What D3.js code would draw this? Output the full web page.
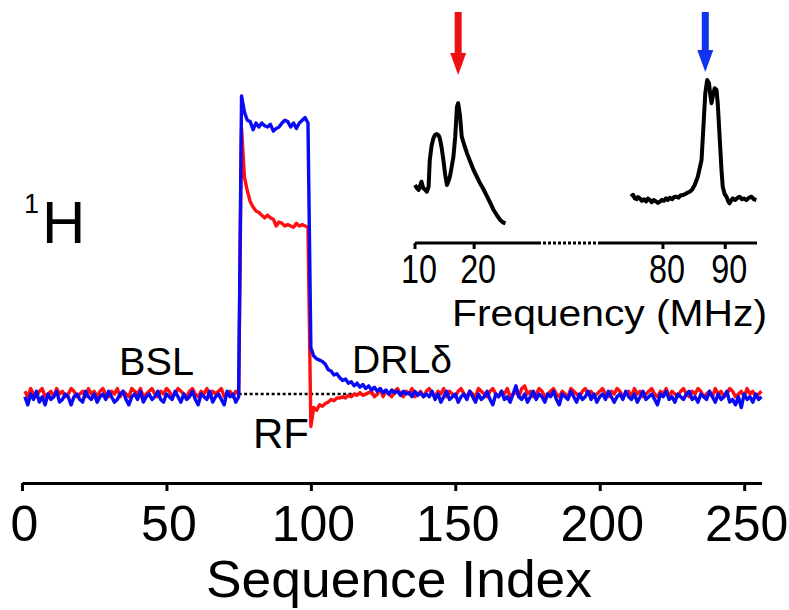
<!DOCTYPE html>
<html>
<head>
<meta charset="utf-8">
<script src="https://cdn.jsdelivr.net/npm/d3@7"></script>
<style>
  body { margin: 0; background: #fff; }
  svg { display: block; font-family: Arial, "Liberation Sans", sans-serif; }
</style>
</head>
<body>
<svg id="chart" width="789" height="610"></svg>
<script>
// ---- main trace data (signal in % of blue plateau), sequence index 1..256 ----
const redBSL = [
  1, -1, 2, 0, -1, 1, 2, -1, 0, 1,
  -1, 2, 0, 1, -1, 0, 2, 1, -1, 0,
  1, -1, 2, 0, 1, -1, 1, 2, 0, -1,
  1, 0, 2, -1, 1, 0, -1, 2, 1, 0,
  2, -1, 0, 1, 2, 0, -1, 1, 0, 2,
  1, -1, 0, 2, 1, 0, -1, 1, 2, 0,
  -1, 1, 0, 2, -1, 1, 0, 1, 2, -1,
  0, 1, -1, 1, 0
];
const redRF = [98, 80, 75, 71, 69, 67.5, 67, 66, 65, 66, 65, 64.5, 62, 63.5, 63, 62, 62.5, 62, 61.5, 63, 62, 62.5, 62, 61.5];
const redDRL = [-12, -5, -6, -4, -4.5, -3.5, -3, -2, -2.5, -1.5, -1.5, -1, -1.5, -0.5, -1, 0, -0.5, 0.5, -0.5, 0, 0.5];
const redTail = [
  1, -1, 0, 2, -1, 1, 0, -1, 1, 2,
  0, -1, 1, 0, 2, -1, 0, 1, -1, 1,
  2, 0, -1, 1, 0, 2, -1, 1, 0, -1,
  1, 2, 0, -1, 1, 0, -1, 2, 1, 0,
  -1, 1, 2, 0, -1, 1, 0, 2, -1, 0,
  1, -1, 2, 3, 0, 1, -1, 0, 2, 1,
  -1, 0, 1, 2, 0, -1, 1, 0, -1, 2,
  1, 0, -1, 1, 2, 0, 1, -1, 0, 1,
  2, 0, -1, 1, 0, 2, 1, -1, 0, 1,
  -1, 2, 0, 1, -1, 0, 1, 2, 0, -1,
  1, 0, 2, -1, 1, 0, -1, 1, 2, 0,
  -1, 1, 0, 2, 1, -1, 0, 1, -1, 2,
  0, 1, -1, 0, 2, 1, -1, 0, 1, -1,
  2, 0, 1, -1, 0, 1
];

const blueBSL = [
  -1, -4, 0, -2, 1, -3, -1, -4, 0, -2,
  -1, 1, -3, -2, 0, -1, -4, -1, 0, -2,
  -3, 1, -1, -2, 0, -3, -1, 0, -2, 1,
  -1, -3, -2, 0, 1, -2, -4, -1, 0, -2,
  1, -3, -1, 0, -2, -1, 1, -2, -3, 0,
  -1, -2, 1, -1, -3, 0, -2, -1, 1, -2,
  -4, 0, -1, -2, 1, -3, -1, 0, -2, -4,
  1, -1, 0, -3, -1
];
const blueRF = [110, 104, 101, 100.5, 97.5, 100, 98.5, 100, 99, 98.5, 99.5, 97, 98, 98.5, 100, 101, 100.5, 98.5, 100, 98, 100, 101, 102, 100];
const blueDRL = [
  17, 14, 13, 12.5, 12, 11, 9, 8.5, 7, 7.5,
  6, 5, 5.5, 4, 4.5, 3, 4, 2.5, 3.5, 2,
  3, 1.5, 2.5, 1, 2, 0.5, 1.5, 0, 1.5, 0.5,
  1, -0.5, 1, 0, 0.5, -1, 1, -0.5, 0.5, -1, 0
];
const blueTail = [
  -1, 1, -2, 0, -3, -1, 1, -2, -1, 0,
  -3, -1, 0, -2, 1, -1, -3, 0, -2, -1,
  1, -2, -4, 0, -1, 1, -2, -1, -3, 0,
  3, -1, -2, 0, -3, -1, 1, -2, 0, -1,
  -3, 0, -1, 1, -2, -4, 0, -1, -2, 1,
  -1, -3, 0, -2, -1, 1, -2, 0, -3, -1,
  0, -2, 1, -1, -3, -1, 0, -2, 1, -1,
  -2, 0, -3, -1, 1, -2, -1, 0, -2, -4,
  0, -1, 1, -2, -1, -3, 0, -1, -2, 0,
  1, -2, -1, -3, 0, -1, -2, 1, -1, -3,
  0, -2, -1, 1, -3, -2, -4, -1, -5, 0,
  -2, -1, -3, 0, -2, -1
];

const redSignal = [...redBSL, ...redRF, ...redDRL, ...redTail];
const blueSignal = [...blueBSL, ...blueRF, ...blueDRL, ...blueTail];
const refLine = [75, 130]; // dotted zero reference (sequence index span)
const xTicks = [0, 50, 100, 150, 200, 250];

// ---- inset spectra: frequency (MHz), intensity ----
const lowFreq = [10.0, 10.3, 10.6, 10.9, 11.1, 11.4, 11.7, 12.0, 12.3, 12.5, 12.8, 13.1, 13.4, 13.7, 14.0, 14.2, 14.5, 14.8, 15.1, 15.4, 15.7, 15.9, 16.2, 16.5, 16.8, 17.1, 17.3, 17.6, 17.9, 18.3, 18.8, 19.3, 19.9, 20.4, 21.0, 21.6, 22.2, 22.8, 23.3, 23.9, 24.4, 24.9, 25.3];
const lowInt = [0.30, 0.28, 0.267, 0.30, 0.322, 0.278, 0.27, 0.255, 0.289, 0.467, 0.56, 0.611, 0.635, 0.64, 0.63, 0.611, 0.55, 0.467, 0.37, 0.30, 0.33, 0.355, 0.42, 0.489, 0.622, 0.822, 0.845, 0.767, 0.622, 0.57, 0.511, 0.46, 0.40, 0.36, 0.311, 0.27, 0.222, 0.175, 0.133, 0.095, 0.067, 0.05, 0.045];
const highFreq = [74.9, 75.2, 75.5, 75.8, 76.0, 76.3, 76.6, 77.0, 77.3, 77.6, 77.9, 78.2, 78.5, 78.9, 79.2, 79.5, 79.8, 80.2, 80.5, 80.8, 81.1, 81.5, 81.8, 82.1, 82.5, 82.8, 83.2, 83.6, 84.0, 84.3, 84.7, 85.1, 85.6, 86.0, 86.2, 86.5, 86.8, 87.1, 87.4, 87.6, 87.8, 88.0, 88.3, 88.6, 88.8, 89.1, 89.4, 89.6, 89.9, 90.2, 90.5, 90.7, 91.0, 91.2, 91.6, 92.0, 92.3, 92.7, 93.0, 93.4, 93.8, 94.2, 94.6, 95.0];
const highInt = [0.222, 0.235, 0.21, 0.205, 0.22, 0.211, 0.195, 0.205, 0.19, 0.21, 0.2, 0.185, 0.2, 0.19, 0.18, 0.189, 0.2, 0.195, 0.211, 0.2, 0.215, 0.205, 0.22, 0.222, 0.215, 0.23, 0.233, 0.24, 0.25, 0.255, 0.27, 0.30, 0.355, 0.43, 0.467, 0.689, 0.911, 1.0, 0.978, 0.9, 0.845, 0.889, 0.945, 0.933, 0.845, 0.622, 0.40, 0.289, 0.24, 0.222, 0.19, 0.178, 0.2, 0.211, 0.2, 0.215, 0.222, 0.205, 0.21, 0.2, 0.215, 0.222, 0.205, 0.2];
const insetTicks = [10, 20, 80, 90];
const insetBreak = [10, 30.8, 69.9, 95.1]; // solid | dotted gap | solid
const arrowFreq = [17.3, 86.8];
const arrowColor = ['#ee1111', '#1133ee'];

const svg = d3.select('#chart');

// ---- main panel ----
const x = d3.scaleLinear().domain([0, 256]).range([22, 761.5]);
const y = d3.scaleLinear().domain([0, 100]).range([394, 123]);

const line = d3.line()
  .x((d, i) => x(i + 1))
  .y(d => y(d));

svg.append('line')
  .attr('x1', x(refLine[0])).attr('x2', x(refLine[1]))
  .attr('y1', y(0)).attr('y2', y(0))
  .attr('stroke', '#000').attr('stroke-width', 2.5)
  .attr('stroke-dasharray', '3,2.5');

svg.append('path')
  .datum(redSignal)
  .attr('d', line)
  .attr('fill', 'none')
  .attr('stroke', '#ff1010')
  .attr('stroke-width', 3.4)
  .attr('stroke-linejoin', 'round');

svg.append('path')
  .datum(blueSignal)
  .attr('d', line)
  .attr('fill', 'none')
  .attr('stroke', '#0a0af5')
  .attr('stroke-width', 3.4)
  .attr('stroke-linejoin', 'round');

const xAxis = svg.append('g')
  .attr('transform', 'translate(0,483)')
  .call(d3.axisBottom(x).tickValues(xTicks).tickSize(8).tickSizeOuter(0).tickPadding(14));
xAxis.select('.domain').attr('stroke-width', 3);
xAxis.selectAll('.tick line').attr('stroke-width', 3);
xAxis.selectAll('.tick text')
  .attr('font-size', 50)
  .attr('font-family', 'Arial, "Liberation Sans", sans-serif')
  .attr('fill', '#000')
  .attr('dx', 2)
  .attr('dy', 0)
  .attr('y', 58);

svg.append('text')
  .attr('x', 399).attr('y', 597)
  .attr('text-anchor', 'middle')
  .attr('font-size', 52)
  .attr('textLength', 386)
  .attr('lengthAdjust', 'spacingAndGlyphs')
  .text('Sequence Index');

// nucleus label
svg.append('text').attr('x', 24).attr('y', 213).attr('font-size', 27).text('1');
svg.append('text').attr('x', 42).attr('y', 243).attr('font-size', 60).text('H');

// trace annotations
svg.append('text').attr('x', 119).attr('y', 375).attr('font-size', 38)
  .attr('textLength', 75).attr('lengthAdjust', 'spacingAndGlyphs').text('BSL');
svg.append('text').attr('x', 253).attr('y', 448).attr('font-size', 42).text('RF');
svg.append('text').attr('x', 352).attr('y', 373).attr('font-size', 39)
  .attr('textLength', 100).attr('lengthAdjust', 'spacingAndGlyphs').text('DRLδ');

// ---- inset spectrum ----
const fx = d3.scaleLinear().domain(insetBreak).range([415, 538, 600, 757]);
const fy = d3.scaleLinear().domain([0, 1]).range([230, 80]);

const specLine = d3.line()
  .x(d => fx(d[0]))
  .y(d => fy(d[1]));

[[lowFreq, lowInt], [highFreq, highInt]].forEach(([f, v]) => {
  svg.append('path')
    .datum(f.map((d, i) => [d, v[i]]))
    .attr('d', specLine)
    .attr('fill', 'none')
    .attr('stroke', '#000')
    .attr('stroke-width', 4)
    .attr('stroke-linejoin', 'round');
});

const insetAxisY = 243;
const inset = svg.append('g');
inset.append('line')
  .attr('x1', fx(insetBreak[0])).attr('x2', fx(insetBreak[1]))
  .attr('y1', insetAxisY).attr('y2', insetAxisY)
  .attr('stroke', '#000').attr('stroke-width', 3);
inset.append('line')
  .attr('x1', fx(insetBreak[1])).attr('x2', fx(insetBreak[2]))
  .attr('y1', insetAxisY).attr('y2', insetAxisY)
  .attr('stroke', '#000').attr('stroke-width', 3)
  .attr('stroke-dasharray', '3,2');
inset.append('line')
  .attr('x1', fx(insetBreak[2])).attr('x2', fx(insetBreak[3]))
  .attr('y1', insetAxisY).attr('y2', insetAxisY)
  .attr('stroke', '#000').attr('stroke-width', 3);

inset.selectAll('.itick')
  .data(insetTicks)
  .join('line')
  .attr('class', 'itick')
  .attr('x1', d => fx(d)).attr('x2', d => fx(d))
  .attr('y1', insetAxisY).attr('y2', insetAxisY + 6)
  .attr('stroke', '#000').attr('stroke-width', 3);

inset.selectAll('.ilabel')
  .data(insetTicks)
  .join('text')
  .attr('class', 'ilabel')
  .attr('x', d => fx(d) + 4)
  .attr('y', 283)
  .attr('text-anchor', 'middle')
  .attr('font-size', 40)
  .attr('textLength', 36)
  .attr('lengthAdjust', 'spacingAndGlyphs')
  .text(d => d);

svg.append('text')
  .attr('x', 452).attr('y', 326)
  .attr('font-size', 37)
  .attr('textLength', 315)
  .attr('lengthAdjust', 'spacingAndGlyphs')
  .text('Frequency (MHz)');

// excitation arrows
const arrowTipY = [75, 72];
arrowFreq.forEach((f, i) => {
  const ax = fx(f);
  const tip = arrowTipY[i];
  svg.append('rect')
    .attr('x', ax - 3.5).attr('y', 12)
    .attr('width', 7).attr('height', tip - 12 - 20)
    .attr('fill', arrowColor[i]);
  svg.append('path')
    .attr('d', `M${ax - 8},${tip - 22} L${ax + 8},${tip - 22} L${ax},${tip} Z`)
    .attr('fill', arrowColor[i]);
});
</script>
</body>
</html>
